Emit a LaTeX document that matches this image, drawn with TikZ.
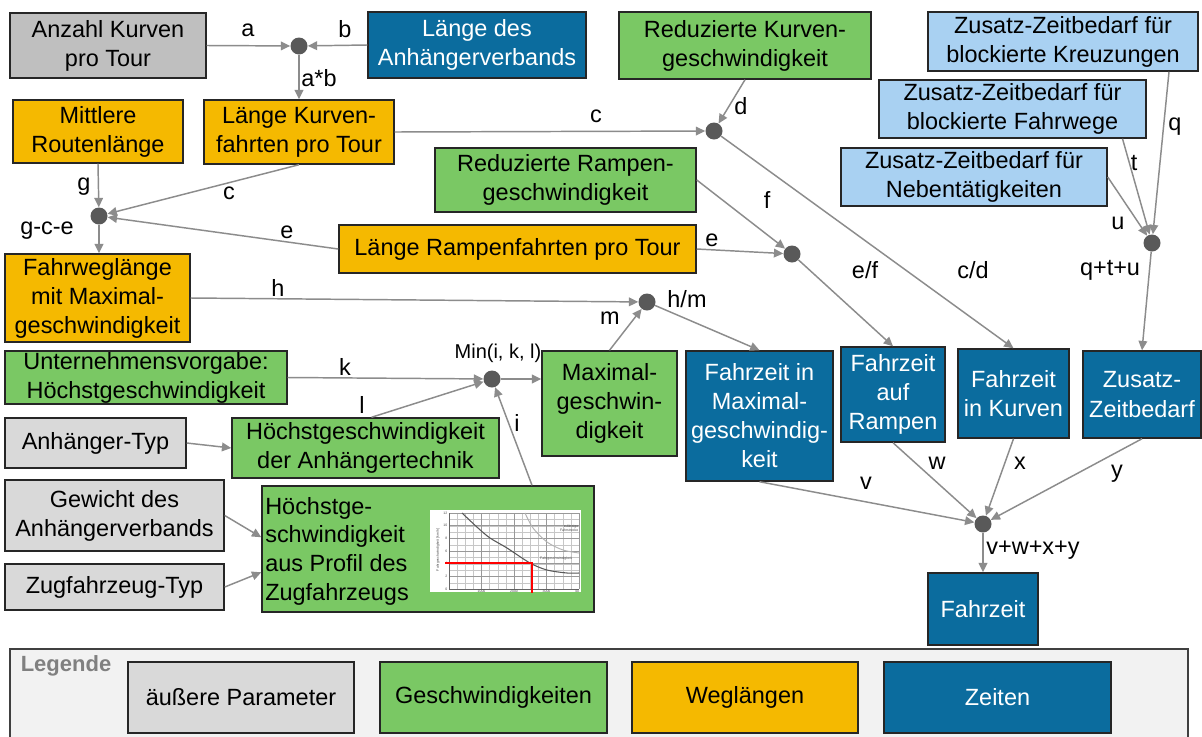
\documentclass[tikz,border=0pt]{standalone}
\usepackage{fontspec}
\setmainfont{Liberation Sans}
\usetikzlibrary{arrows.meta,calc}
\definecolor{cgreyA}{RGB}{191,191,191}
\definecolor{cgreyB}{RGB}{217,217,217}
\definecolor{cblue}{RGB}{11,108,158}
\definecolor{cgreen}{RGB}{122,200,100}
\definecolor{corange}{RGB}{245,185,0}
\definecolor{clblue}{RGB}{169,209,242}
\definecolor{cdot}{RGB}{89,89,89}
\definecolor{carrow}{RGB}{140,140,140}
\definecolor{clegbg}{RGB}{242,242,242}
\newcommand{\mybox}[7]{\node[#6, minimum width={(#4-#2)*0.75pt}, minimum height={(#5-#3)*0.75pt}] (#1) at ({(#2+#4)/2},{(#3+#5)/2}) {#7};}
\tikzset{
  box/.style={draw=black!85, line width=1.1pt, inner sep=0pt, align=center, font=\fontsize{17.6pt}{21.8pt}\selectfont},
  gA/.style={box, fill=cgreyA},
  gB/.style={box, fill=cgreyB},
  bl/.style={box, fill=cblue, text=white},
  gr/.style={box, fill=cgreen},
  og/.style={box, fill=corange},
  lb/.style={box, fill=clblue},
  dot/.style={circle, fill=cdot, inner sep=0pt, minimum size=12.75pt},
  arr/.style={draw=carrow, line width=1.1pt, -{Triangle[length=7pt,width=6.5pt]}},
  lbl/.style={inner sep=0pt, font=\fontsize{17.6pt}{21pt}\selectfont},
  tiny/.style={inner sep=0.3pt, font=\fontsize{2.6pt}{3pt}\selectfont, text=black!70}
}
\begin{document}
\begin{tikzpicture}[x=0.75pt, y=-0.75pt]
\useasboundingbox (0,0) rectangle (1202,736);
\fill[white] (0,0) rectangle (1202,736);

% legend background
\fill[clegbg] (10,649) rectangle (1188,740);
\draw[black!75, line width=1.2pt] (10,740) -- (10,649) -- (1188,649) -- (1188,740);

% boxes
\mybox{anz}{10}{13}{206}{78}{gA}{Anzahl Kurven\\pro Tour}
\mybox{ld}{368}{12}{586}{78}{bl}{Länge des\\Anhängerverbands}
\mybox{rk}{619}{12}{871}{79}{gr}{Reduzierte Kurven-\\geschwindigkeit}
\mybox{kr}{928}{12}{1198}{71}{lb}{Zusatz-Zeitbedarf für\\blockierte Kreuzungen}
\mybox{fwg}{879}{80}{1146}{138}{lb}{Zusatz-Zeitbedarf für\\blockierte Fahrwege}
\mybox{nb}{841}{148}{1107}{206}{lb}{Zusatz-Zeitbedarf für\\Nebentätigkeiten}
\mybox{mr}{13}{100}{183}{163}{og}{Mittlere\\Routenlänge}
\mybox{lk}{204}{100}{394}{164}{og}{Länge Kurven-\\fahrten pro Tour}
\mybox{rr}{435}{148}{696}{212}{gr}{Reduzierte Rampen-\\geschwindigkeit}
\mybox{lr}{339}{225}{696}{273}{og}{Länge Rampenfahrten pro Tour}
\mybox{fw}{5}{254}{190}{342}{og}{Fahrweglänge\\mit Maximal-\\geschwindigkeit}
\mybox{un}{5}{351}{287}{404}{gr}{Unternehmensvorgabe:\\Höchstgeschwindigkeit}
\mybox{ty}{5}{418}{186}{468}{gB}{Anhänger-Typ}
\mybox{at}{232}{418}{499}{478}{gr}{Höchstgeschwindigkeit\\der Anhängertechnik}
\mybox{gw}{5}{480}{224}{551}{gB}{Gewicht des\\Anhängerverbands}
\mybox{zf}{5}{564}{224}{610}{gB}{Zugfahrzeug-Typ}
\mybox{hg}{262}{486}{594}{612}{gr}{}
\mybox{mx}{542}{351}{677}{456}{gr}{Maximal-\\geschwin-\\digkeit}
\mybox{fm}{686}{351}{833}{481}{bl}{Fahrzeit in\\Maximal-\\geschwindig-\\keit}
\mybox{far}{841}{347}{945}{442}{bl}{Fahrzeit\\auf\\Rampen}
\mybox{fk}{958}{349}{1069}{438}{bl}{Fahrzeit\\in Kurven}
\mybox{zz}{1083}{351}{1201}{438}{bl}{Zusatz-\\Zeitbedarf}
\mybox{fz}{928}{573}{1038}{645}{bl}{Fahrzeit}

\node[lbl, anchor=west, align=left, font=\fontsize{17.6pt}{21.5pt}\selectfont] (hgt) at (265,551) {Höchstge-\\schwindigkeit\\aus Profil des\\Zugfahrzeugs};

% chart inside hg
\fill[white] (430,510) rectangle (581,592);
\foreach \i in {0,...,16} \draw[black!22, line width=0.25pt] ({449+\i*8.125},513) -- ({449+\i*8.125},589);
\foreach \j in {0,...,12} \draw[black!22, line width=0.25pt] (449,{589-\j*6.333}) -- (579,{589-\j*6.333});
\foreach \i in {0,4,8,12,16} \draw[black!40, line width=0.3pt] ({449+\i*8.125},513) -- ({449+\i*8.125},589);
\foreach \j in {0,2,...,12} \draw[black!40, line width=0.3pt] (449,{589-\j*6.333}) -- (579,{589-\j*6.333});
\draw[black!60, line width=0.35pt] (449,513) -- (449,589) -- (579,589);
\foreach \j in {0,2,...,12} \node[tiny, anchor=east] (yt\j) at (448,{589-\j*6.333}) {\j};
\node[tiny] (xt1) at (481.5,591) {1000};
\node[tiny] (xt2) at (514,591) {2000};
\node[tiny] (xt3) at (546.5,591) {3000};
\node[tiny] (xt4) at (577,591) {40};
\node[tiny, rotate=90] (yax) at (438,550) {Fahrgeschwindigkeit [km/h]};
\node[tiny, align=right, anchor=east] (zf1) at (579,528) {zulässige\\Fahrstrecke};
\node[tiny] (fg1) at (556,559) {Fahrgeschwindigkeit};
\draw[black!30, line width=0.7pt] plot[smooth] coordinates {(525,513) (533,528) (547,542) (563,550) (579,553)};
\draw[black!65, line width=0.8pt] plot[smooth] coordinates {(462,513) (478,528) (490,538) (507,548) (530,563) (547,570) (567,573) (579,573)};
\draw[red, line width=1.4pt] (445,563) -- (532,563) -- (532,593);

% dots
\node[dot] (d1) at (299,46) {};
\node[dot] (d2) at (99,216) {};
\node[dot] (dd) at (714,131) {};
\node[dot] (dr) at (792,254) {};
\node[dot] (dq) at (1152,243) {};
\node[dot] (dhm) at (647,302) {};
\node[dot] (dmin) at (492,379) {};
\node[dot] (db) at (983,524) {};

% connectors
\draw[arr] (anz.east) -- (d1);
\draw[arr] (ld.west) -- (d1);
\draw[arr] (d1) -- (lk.north);
\draw[arr] (lk.south) -- (d2);
\draw[arr] (lk.east) -- (dd);
\draw[arr] (rk.south) -- (dd);
\draw[arr] (mr.south) -- (d2);
\draw[arr] (lr.west) -- (d2);
\draw[arr] (d2) -- (d2 |- fw.north);
\draw[arr] (rr.east) -- (dr);
\draw[arr] (lr.east) -- (dr);
\draw[arr] (dr) -- (far.north);
\draw[arr] (dd) -- (fk.north);
\draw[arr] ($(kr.south)+(106,0)$) -- (dq);
\draw[arr] ($(fwg.south)+(110,0)$) -- (dq);
\draw[arr] (nb.east) -- (dq);
\draw[arr] (dq) -- (zz.north);
\draw[arr] (fw.east) -- (dhm);
\draw[arr] (mx.north) -- (dhm);
\draw[arr] (dhm) -- (fm.north);
\draw[arr] (un.east) -- (dmin);
\draw[arr] ($(at.north)+(6,0)$) -- (dmin);
\draw[arr] ($(hg.north)+(104,0)$) -- (dmin);
\draw[arr] (dmin) -- (dmin -| mx.west);
\draw[arr] (ty.east) -- (at.west);
\draw[arr] (gw.east) -- ($(hg.north west)+(0,52)$);
\draw[arr] (zf.east) -- ($(hg.north west)+(0,87)$);
\draw[arr] (fm.south) -- (db);
\draw[arr] (far.south) -- (db);
\draw[arr] (fk.south) -- (db);
\draw[arr] (zz.south) -- (db);
\draw[arr] (db) -- (fz.north);

% labels
\node[lbl] (la) at (248,30) {a};
\node[lbl] (lb) at (345,29) {b};
\node[lbl] (lab) at (319,78) {a*b};
\node[lbl] (lc1) at (229,193) {c};
\node[lbl] (lc2) at (596,116) {c};
\node[lbl] (ld1) at (741,106) {d};
\node[lbl] (lg) at (84,187) {g};
\node[lbl] (lgce) at (47,231) {g-c-e};
\node[lbl] (le1) at (287,232) {e};
\node[lbl] (lf) at (767,200) {f};
\node[lbl] (le2) at (712,240) {e};
\node[lbl] (lef) at (865,270) {e/f};
\node[lbl] (lcd) at (973,270) {c/d};
\node[lbl] (lq) at (1175,127) {q};
\node[lbl] (lt) at (1134,163) {t};
\node[lbl] (lu) at (1118,223) {u};
\node[lbl] (lqtu) at (1110,270) {q+t+u};
\node[lbl] (lh) at (278,288) {h};
\node[lbl] (lm) at (610,318) {m};
\node[lbl] (lhm) at (687,299) {h/m};
\node[lbl, font=\fontsize{15pt}{18pt}\selectfont] (lmin) at (498,353) {Min(i, k, l)};
\node[lbl] (lk1) at (345,367) {k};
\node[lbl] (ll) at (362,405) {l};
\node[lbl] (li) at (517,423) {i};
\node[lbl] (lv) at (866,483) {v};
\node[lbl] (lw) at (937,463) {w};
\node[lbl] (lx) at (1020,463) {x};
\node[lbl] (ly) at (1117,474) {y};
\node[lbl] (lsum) at (1033,550) {v+w+x+y};

% legend
\node[inner sep=0pt, font=\bfseries\fontsize{16.5pt}{18pt}\selectfont, text=black!50] (legt) at (66,666) {Legende};
\mybox{lg1}{128}{662}{354}{733}{gB}{äußere Parameter}
\mybox{lg2}{380}{662}{607}{733}{gr}{Geschwindigkeiten}
\mybox{lg3}{632}{662}{858}{733}{og}{Weglängen}
\mybox{lg4}{884}{662}{1111}{733}{bl}{Zeiten}
\end{tikzpicture}
\end{document}
